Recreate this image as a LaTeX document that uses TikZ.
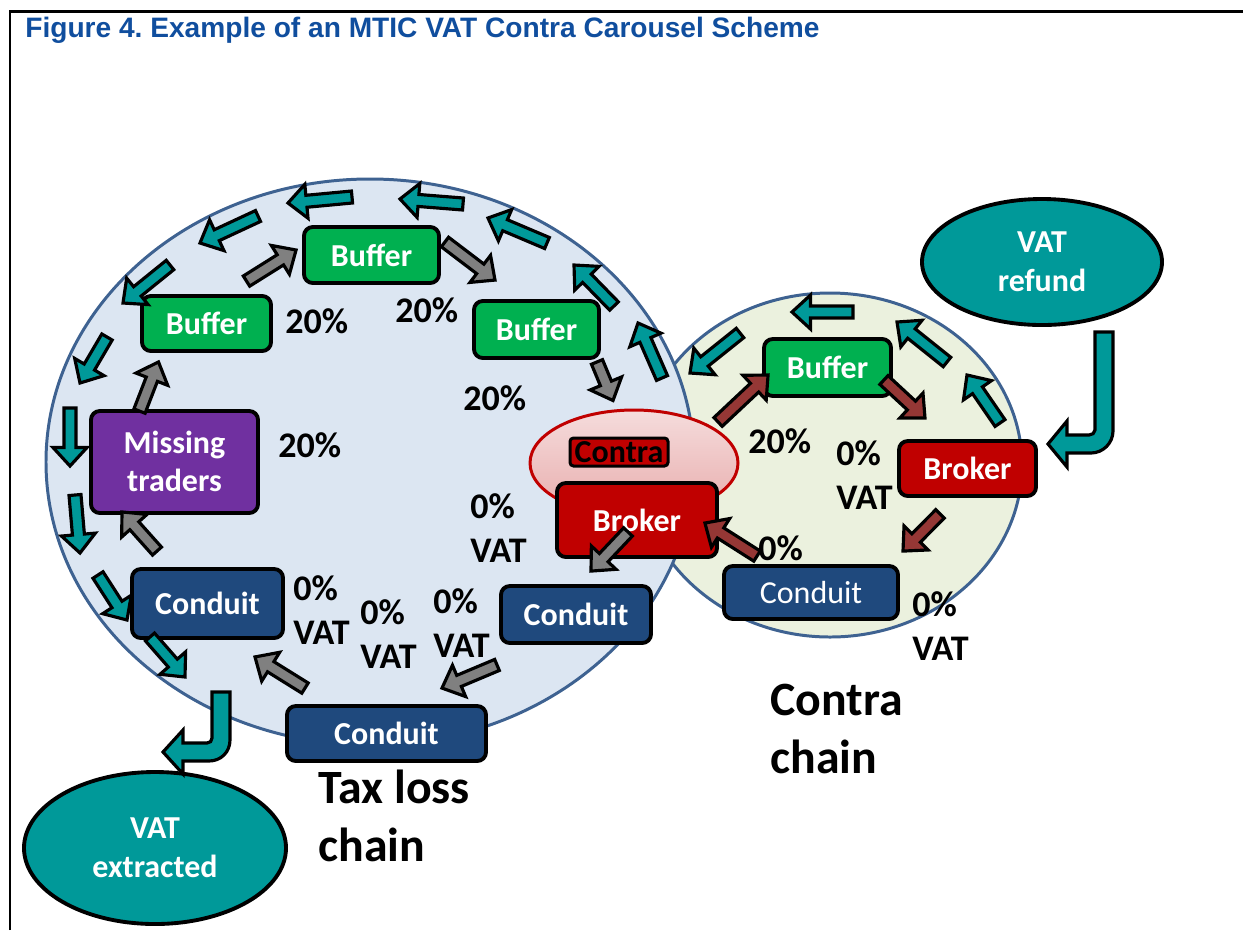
\documentclass[tikz,border=0pt]{standalone}
\usepackage{fontspec}
\setmainfont{Carlito}
\newfontfamily\titlefont{Liberation Sans}
\usetikzlibrary{calc,shapes.geometric}
\frenchspacing

\definecolor{titleblue}{RGB}{16,78,158}
\definecolor{ringblue}{RGB}{62,98,145}
\definecolor{lossfill}{RGB}{220,230,242}
\definecolor{contrafill}{RGB}{235,241,222}
\definecolor{buffergreen}{RGB}{0,176,80}
\definecolor{mtpurple}{RGB}{112,48,160}
\definecolor{conduitblue}{RGB}{31,73,125}
\definecolor{brokerred}{RGB}{192,0,0}
\definecolor{vatteal}{RGB}{0,153,153}
\definecolor{flowgrey}{RGB}{128,128,128}
\definecolor{flowbrown}{RGB}{149,55,53}
\definecolor{pinktop}{RGB}{245,220,220}
\definecolor{pinkbot}{RGB}{232,172,172}

\newcommand{\boxfont}{\fontsize{18.2}{22}\selectfont\bfseries}
\newcommand{\boxlight}{\fontsize{18.2}{22}\selectfont}
\newcommand{\pctfont}{\fontsize{20.5}{25}\selectfont\bfseries}
\newcommand{\chainfont}{\fontsize{27.2}{33}\selectfont\bfseries}

\newcommand{\headlen}{3.7mm}
\newcommand{\headhw}{3.4mm}
\newcommand{\shafthw}{1.2mm}

\tikzset{
  ring/.style={draw=ringblue, line width=1.7pt},
  box/.style={draw=black, line width=2.2pt, rounded corners=5pt, text=white,
    font=\boxfont, align=center, inner sep=0pt},
  vatbubble/.style={ellipse, draw=black, line width=2.2pt, fill=vatteal,
    text=white, font=\boxfont, align=center, inner sep=0pt},
  pct/.style={font=\pctfont, anchor=west, align=left, inner sep=0pt},
  chainlbl/.style={font=\chainfont, anchor=west, align=left, inner sep=0pt},
  arrowline/.style={draw=black, line width=1.8pt}
}

\newcommand{\blockarrow}[3]{%
  \path #2 coordinate (ba-a) #3 coordinate (ba-b);
  \path ($(ba-b)!\headlen!(ba-a)$) coordinate (ba-h);
  \draw[arrowline, fill=#1] ($(ba-a)!\shafthw!90:(ba-b)$) -- ($(ba-h)!\shafthw!90:(ba-b)$)
    -- ($(ba-h)!\headhw!90:(ba-b)$) -- (ba-b) -- ($(ba-h)!\headhw!-90:(ba-b)$)
    -- ($(ba-h)!\shafthw!-90:(ba-b)$) -- ($(ba-a)!\shafthw!-90:(ba-b)$) -- cycle;
}

\begin{document}
\begin{tikzpicture}[x=0.2mm, y=-0.2mm]
\useasboundingbox (0,0) rectangle (1243,930);
\draw[line width=1.7pt] (10,930) -- (10,11) -- (1243,11);
\node[anchor=base west, inner sep=0pt, font=\titlefont\fontsize{16}{19}\selectfont\bfseries, text=titleblue] (title) at (25,37) {Figure 4. Example of an MTIC VAT Contra Carousel Scheme};

\draw[ring, fill=contrafill] (830,465) ellipse [x radius=38.4mm, y radius=34.4mm];
\draw[ring, fill=lossfill] (370,462) ellipse [x radius=64.8mm, y radius=56.6mm];
\node[ellipse, draw=brokerred, line width=1.7pt, top color=pinktop, bottom color=pinkbot, minimum width=41.6mm, minimum height=21.2mm] (contraring) at (634,463) {};

\node[box, fill=buffergreen, minimum width=27mm, minimum height=11.2mm] (buf1) at (371.5,255) {Buffer};
\node[box, fill=buffergreen, minimum width=25.8mm, minimum height=11mm] (buf2) at (206.5,323.5) {Buffer};
\node[box, fill=buffergreen, minimum width=25mm, minimum height=11.4mm] (buf3) at (536.5,329.5) {Buffer};
\node[box, fill=mtpurple, minimum width=33.4mm, minimum height=20.4mm, text depth=1pt] (mt) at (174.5,462) {Missing\\traders};
\node[box, fill=conduitblue, minimum width=30.2mm, minimum height=13.8mm] (conL) at (207.5,603.5) {Conduit};
\node[box, fill=conduitblue, minimum width=39.8mm, minimum height=11mm] (conB) at (386.5,733.5) {Conduit};
\node[box, fill=conduitblue, minimum width=30mm, minimum height=11.4mm] (conM) at (576,614.5) {Conduit};
\node[box, fill=brokerred, minimum width=32mm, minimum height=14.8mm] (brk1) at (637,520) {Broker};
\node[box, fill=brokerred, text=black, line width=1.7pt, rounded corners=2pt, minimum width=19.6mm, minimum height=5.6mm] (contralbl) at (619,452) {Contra};
\node[box, fill=buffergreen, minimum width=25.4mm, minimum height=11.4mm] (buf4) at (827.5,367.5) {Buffer};
\node[box, fill=brokerred, minimum width=27.4mm, minimum height=11mm] (brk2) at (967.5,468.5) {Broker};
\node[box, fill=conduitblue, font=\boxlight, minimum width=34.8mm, minimum height=10.6mm] (conG) at (811,592.5) {Conduit};
\node[vatbubble, minimum width=48mm, minimum height=25.2mm] (refund) at (1042,262) {VAT\\refund};
\node[vatbubble, minimum width=52.4mm, minimum height=30.4mm] (extracted) at (155,848) {VAT\\extracted};

\node[pct] (p1) at (285,321) {20\%};
\node[pct] (p2) at (395,310) {20\%};
\node[pct] (p3) at (463,398) {20\%};
\node[pct] (p4) at (278,445) {20\%};
\node[pct] (v1) at (293,610) {0\%\\VAT};
\node[pct] (v2) at (360,634) {0\%\\VAT};
\node[pct] (v3) at (433,623) {0\%\\VAT};
\node[pct] (v4) at (470,528) {0\%\\VAT};
\node[pct] (p5) at (748,441) {20\%};
\node[pct] (v5) at (836,475) {0\%\\VAT};
\node[pct] (v6) at (758,548) {0\%};
\node[pct] (v7) at (912,626) {0\%\\VAT};
\node[chainlbl] (taxloss) at (318,816) {Tax loss\\chain};
\node[chainlbl] (contrachain) at (770,729) {Contra\\chain};

\blockarrow{flowgrey}{($(mt.north)+(-35,2)$)}{($(buf2.south)+(-48,9)$)}
\blockarrow{flowgrey}{($(buf2.north)+(40,-13)$)}{($(buf1.west)+(-6,-5)$)}
\blockarrow{flowgrey}{($(buf1.east)+(4,-13)$)}{($(buf3.north)+(-41.5,-19)$)}
\blockarrow{flowgrey}{($(buf3.south)+(60.5,2)$)}{($(contraring.north)+(-21,-8)$)}
\blockarrow{flowgrey}{($(brk1.south)+(-9,-27)$)}{($(conM.north)+(15,-13)$)}
\blockarrow{flowgrey}{($(conM.south)+(-79,20)$)}{($(conB.north)+(55.5,-16)$)}
\blockarrow{flowgrey}{($(conB.north)+(-81.5,-16)$)}{($(conL.south)+(47.5,17)$)}
\blockarrow{flowgrey}{($(conL.north)+(-50.5,-16)$)}{($(mt.south)+(-52.5,-3)$)}

\blockarrow{flowbrown}{($(buf4.south west)+(-44,24)$)}{($(buf4.west)+(6,7.5)$)}
\blockarrow{flowbrown}{($(buf4.east)+(-9,12.5)$)}{($(brk2.north)+(-42.5,-21)$)}
\blockarrow{flowbrown}{($(brk2.south)+(-27.5,16)$)}{($(conG.north)+(92,-13)$)}
\blockarrow{flowbrown}{($(conG.north)+(-54,-8)$)}{($(brk1.east)+(-14,3)$)}

\blockarrow{vatteal}{(662,378)}{(638,323)}
\blockarrow{vatteal}{(614,306)}{(574,265)}
\blockarrow{vatteal}{(547,243)}{(488,218)}
\blockarrow{vatteal}{(463,204)}{(400,199)}
\blockarrow{vatteal}{(352,197)}{(288,203)}
\blockarrow{vatteal}{(258,216)}{(200,243)}
\blockarrow{vatteal}{(170,265)}{(123,303)}
\blockarrow{vatteal}{(107,337)}{(80,383)}
\blockarrow{vatteal}{(70,408)}{(70,466)}
\blockarrow{vatteal}{(75,495)}{(80,553)}
\blockarrow{vatteal}{(98,575)}{(127,620)}
\blockarrow{vatteal}{(150,637)}{(185,677)}
\blockarrow{vatteal}{(1000,423)}{(967,375)}
\blockarrow{vatteal}{(947,362)}{(897,322)}
\blockarrow{vatteal}{(853,312)}{(792,312)}
\blockarrow{vatteal}{(740,333)}{(690,373)}

\draw[arrowline, fill=vatteal] (1095,332) -- (1113,332) -- (1113,431) .. controls (1113,443) and (1103,453) .. (1091,453) -- (1067,453) -- (1067,467) -- (1048,444) -- (1067,421) -- (1067,435) -- (1089,435) .. controls (1092,435) and (1095,433) .. (1095,430) -- cycle;
\draw[arrowline, fill=vatteal] (212,692) -- (230,692) -- (230,740) .. controls (230,752) and (221,761) .. (209,761) -- (183,761) -- (183,774) -- (163,752) -- (183,730) -- (183,743) -- (207,743) .. controls (210,743) and (212,741) .. (212,738) -- cycle;
\end{tikzpicture}
\end{document}
